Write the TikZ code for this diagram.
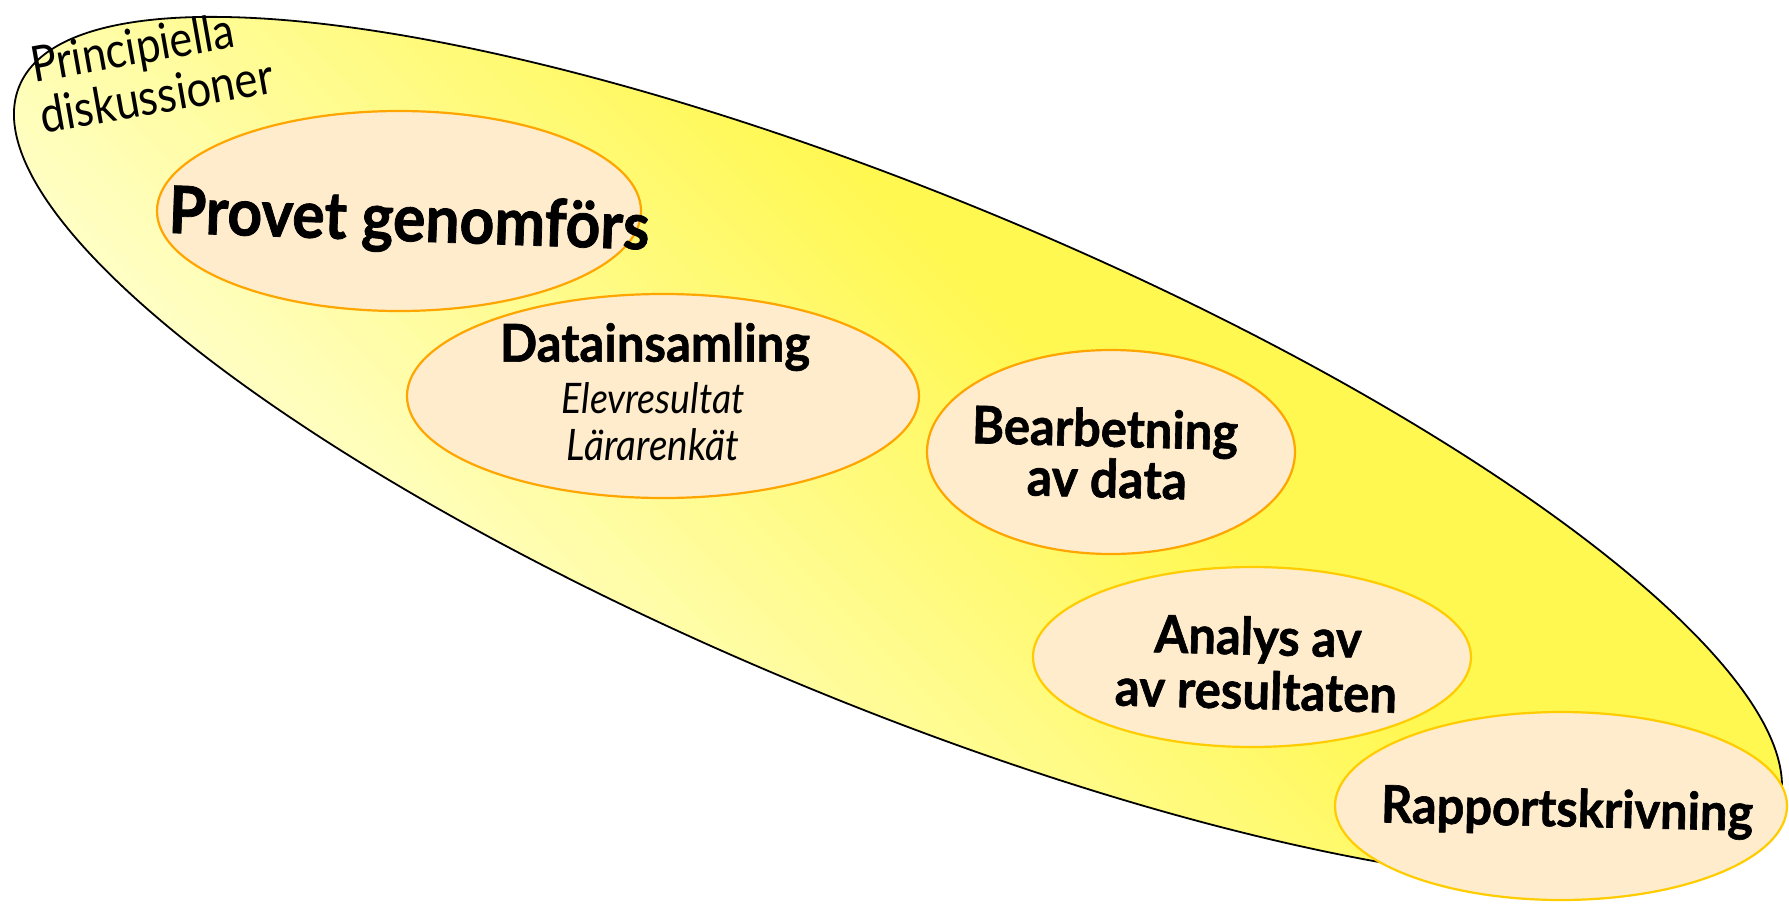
\documentclass[tikz,border=0pt]{standalone}
\usepackage{fontspec}
\setmainfont{Lato}
\newfontfamily\heavyfont{Lato}[BoldFeatures={FakeBold=1.2}]
\usepackage{graphicx}
\usetikzlibrary{shapes.geometric}
\definecolor{paleY}{RGB}{255,255,205}
\definecolor{strongY}{RGB}{255,248,80}
\definecolor{stagefill}{RGB}{254,236,205}
\definecolor{orangeline}{RGB}{255,165,0}
\definecolor{goldline}{RGB}{255,204,0}
\newcommand{\fitw}[3][1]{\scalebox{1}[#1]{\resizebox{#2pt}{!}{#3}}}
\tikzset{
  stagebox/.style={ellipse, draw=orangeline, fill=stagefill, line width=2.2pt, inner sep=0pt},
  goldbox/.style={stagebox, draw=goldline},
  lbl/.style={inner sep=0pt, font=\heavyfont\bfseries},
  sublbl/.style={inner sep=0pt, font=\itshape},
}
\begin{document}
\begin{tikzpicture}[x=1pt,y=-1pt]
\useasboundingbox (0,0) rectangle (1789,903);
% big background ellipse with gradient
\coordinate (bigc) at (898,450);
\begin{scope}
  \clip[rotate around={-22.5:(bigc)}] (bigc) ellipse [x radius=951, y radius=254];
  \begin{scope}[shift={(bigc)}, rotate=45]
    \foreach \i in {0,...,89}{
      \pgfmathtruncatemacro\pct{max(0,min(100,round((\i*10+30)/6.5)))}
      \fill[strongY!\pct!paleY] (-450+\i*10,-1100) rectangle (-438+\i*10,1100);
    }
  \end{scope}
\end{scope}
\draw[black, line width=1.8pt, rotate around={-22.5:(bigc)}]
  (bigc) ellipse [x radius=951, y radius=254];
\node[inner sep=0pt, rotate=10, align=left, font=\fontsize{38}{52}\selectfont] (princ) at (152,70)
  {\fitw[1.15]{205}{Principiella}\\\fitw[1.15]{236}{diskussioner}};
% stages
\node[stagebox, minimum width=484pt, minimum height=200pt] (provet) at (399,211) {};
\node[lbl, rotate=-2] (provet-t) at (409,223) {\fitw[1.08]{481}{Provet genomförs}};
\node[stagebox, minimum width=512pt, minimum height=204pt] (data) at (663,396) {};
\node[lbl] (data-t) at (655,347) {\fitw[1.06]{310}{Datainsamling}};
\node[sublbl] (data-a) at (653,398) {\fitw[1.12]{183}{Elevresultat}};
\node[sublbl] (data-b) at (653,445) {\fitw[1.12]{172}{Lärarenkät}};
\node[stagebox, minimum width=368pt, minimum height=204pt] (bearb) at (1111,452) {};
\node[lbl, rotate=-1.5] (bearb-t) at (1105,432) {\fitw[1.06]{266}{Bearbetning}};
\node[lbl, rotate=-1.5] (bearb-b) at (1107,478) {\fitw[1.06]{160}{av data}};
\node[goldbox, minimum width=438pt, minimum height=180pt] (analys) at (1252,657) {};
\node[lbl, rotate=-1.5] (analys-t) at (1258,640) {\fitw[1.06]{207}{Analys av}};
\node[lbl, rotate=-1.5] (analys-b) at (1256,690) {\fitw[1.06]{282}{av resultaten}};
\node[goldbox, minimum width=452pt, minimum height=188pt] (rapport) at (1561,806) {};
\node[lbl, rotate=-1.3] (rapport-t) at (1567,812) {\fitw[1.06]{372}{Rapportskrivning}};
\end{tikzpicture}
\end{document}
